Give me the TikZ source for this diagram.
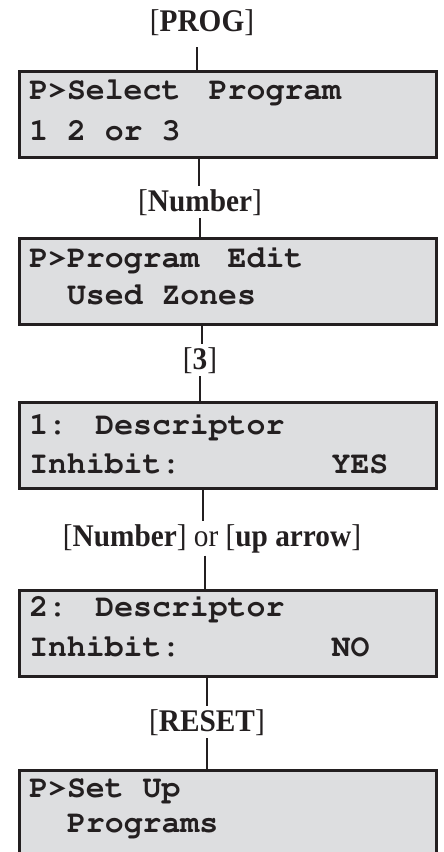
\documentclass[tikz,border=0pt]{standalone}
\usepackage[T1,TU]{fontenc}
\usepackage{fontspec}
\setmainfont{Liberation Serif}[FakeStretch=0.93]
\usepackage{xcolor}
\definecolor{lcdgray}{RGB}{221,222,224}
\definecolor{ink}{RGB}{35,31,32}
\newcommand{\lcdfont}{\fontencoding{T1}\fontfamily{pcr}\fontseries{b}\fontshape{n}\fontsize{31.5}{34}\selectfont}
\newcommand{\keyfont}{\rmfamily\fontsize{31.5}{34}\selectfont}
\newcommand{\lcdgap}{~\kern9.5pt}

\begin{document}
\begin{tikzpicture}[x=1pt, y=-1pt, line width=2.5pt, color=ink,
    lcd/.style={draw=ink, fill=lcdgray, minimum width=417pt, minimum height=86pt, inner sep=0pt, anchor=north west},
    lcdtxt/.style={anchor=base west, inner sep=0pt, font=\lcdfont},
    keylab/.style={anchor=base, inner sep=0pt, outer sep=3pt, font=\keyfont}]
            \useasboundingbox (0,0) rectangle (444,852);
            \clip (0,0) rectangle (444,852);
            \node[lcd] (d1) at (18,70) {};
            \node[lcd] (d2) at (18,237) {};
            \node[lcd] (d3) at (18,401) {};
            \node[lcd] (d4) at (18,589) {};
            \node[lcd, minimum height=100pt] (d5) at (18,769) {};
            \node[lcdtxt] (d1a) at (28,99) {P>Select\lcdgap Program};
            \node[lcdtxt] (d1b) at (28,140) {1 2 or 3};
            \node[lcdtxt] (d2a) at (28,267) {P>Program\lcdgap Edit};
            \node[lcdtxt] (d2b) at (65.8,304) {Used Zones};
            \node[lcdtxt] (d3a) at (28,434) {1:\lcdgap Descriptor};
            \node[lcdtxt] (d3b) at (28,473) {Inhibit:~~~~~~~~YES};
            \node[lcdtxt] (d4a) at (28,616) {2:\lcdgap Descriptor};
            \node[lcdtxt] (d4b) at (28,656) {Inhibit:~~~~~~~~NO};
            \node[lcdtxt] (d5a) at (28,797) {P>Set Up};
            \node[lcdtxt] (d5b) at (65.8,832) {Programs};
            \node[keylab] (kprog) at (202,31) {[\textbf{PROG}]};
            \node[keylab] (knum) at (200,211) {[\textbf{Number}]};
            \node[keylab] (k3) at (200,369) {[\textbf{3}]};
            \node[keylab] (kup) at (212,546) {[\textbf{Number}] or [\textbf{up arrow}]};
            \node[keylab] (kreset) at (207,731) {[\textbf{RESET}]};
            \draw[shorten <=9pt] (kprog.south -| 197,0) -- (d1.north -| 197,0);
            \draw (d1.south -| 199,0) -- (knum.north -| 199,0);
            \draw (knum.south -| 200,0) -- (d2.north -| 200,0);
            \draw (d2.south -| 202,0) -- (k3.north -| 202,0);
            \draw (k3.south -| 200,0) -- (d3.north -| 200,0);
            \draw (d3.south -| 203,0) -- (kup.north -| 203,0);
            \draw (kup.south -| 205,0) -- (d4.north -| 205,0);
            \draw (d4.south -| 207,0) -- (kreset.north -| 207,0);
            \draw (kreset.south -| 207,0) -- (d5.north -| 207,0);
        \end{tikzpicture}
\end{document}
